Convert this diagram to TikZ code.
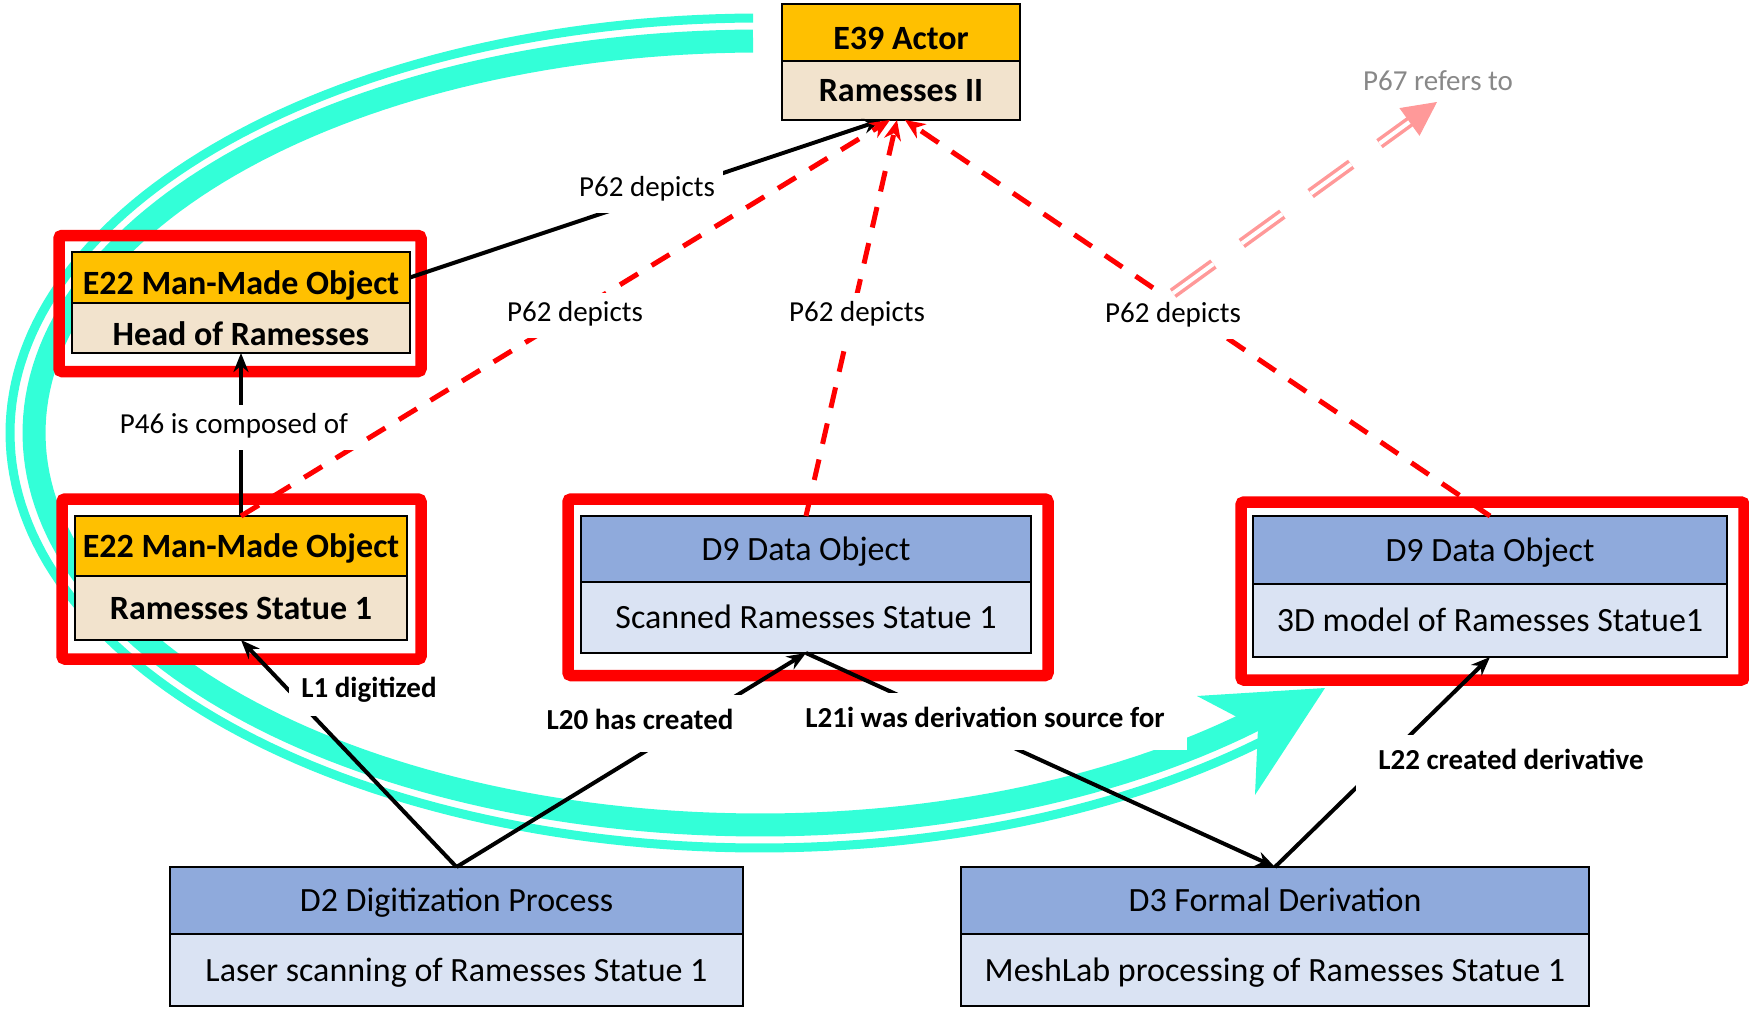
\documentclass[tikz,border=0pt]{standalone}
\usepackage{fontspec}
\setmainfont{Carlito}
\usetikzlibrary{arrows.meta,calc}
\definecolor{gold}{HTML}{FFC000}
\definecolor{beige}{HTML}{F2E3CD}
\definecolor{bluehead}{HTML}{8FAADC}
\definecolor{bluebody}{HTML}{DAE3F3}
\definecolor{turq}{HTML}{33FFD8}
\definecolor{pinkc}{HTML}{FF9999}
\definecolor{greytxt}{HTML}{888888}
\begin{document}
\begin{tikzpicture}[x=1pt,y=-1pt,
  band/.style={draw=black, line width=2.2pt, inner sep=0pt, outer sep=0pt,
    text height=27pt, text depth=5pt, font=\fontsize{34}{40}\selectfont},
  lowtext/.style={text height=39pt, text depth=5pt},
  ehead/.style={band, fill=gold, font=\fontsize{34}{40}\selectfont\bfseries},
  ebody/.style={band, fill=beige, font=\fontsize{34}{40}\selectfont\bfseries},
  dhead/.style={band, fill=bluehead},
  dbody/.style={band, fill=bluebody},
  hilite/.style={draw=red, line width=11.5pt, rounded corners=3pt},
  blk/.style={draw=black, line width=4pt, -{Stealth[length=19pt,width=15pt]}},
  reddash/.style={draw=red, line width=5pt, dash pattern=on 21pt off 16pt,
    -{Stealth[length=20pt,width=17pt]}},
  lbl/.style={fill=white, inner xsep=8pt, inner ysep=8pt, text height=21pt,
    text depth=8pt, font=\fontsize{29}{34}\selectfont},
  blbl/.style={lbl, inner xsep=22pt, inner ysep=14pt,
    font=\fontsize{29}{34}\selectfont\bfseries},
]
\useasboundingbox (0,0) rectangle (1749,1009);

% large turquoise loop: thin outer stroke, thick inner stroke, arrowhead
\draw[turq, line width=9pt] plot[domain=90.53:313, samples=160]
  ({760+750*cos(\x)},{433-415*sin(\x)});
\draw[turq, line width=23pt] plot[domain=90.55:314, samples=160]
  ({760+726*cos(\x)},{433-392*sin(\x)});
\fill[turq] (1325,688) -- (1197,696) -- (1258,728) -- (1255,795) -- cycle;

% red highlight frames
\draw[hilite] (59,235.5) rectangle (421,371.5);
\draw[hilite] (62,499) rectangle (421,659);
\draw[hilite] (568,499) rectangle (1048,675.5);
\draw[hilite] (1241,502) rectangle (1744,680);

% entity boxes
\node[ehead, lowtext, minimum width=238pt, minimum height=57pt, anchor=north west] (e39H) at (782,4) {E39 Actor};
\node[ebody, minimum width=238pt, minimum height=59pt, anchor=north] (e39B) at (e39H.south) {Ramesses II};

\node[ehead, lowtext, minimum width=338pt, minimum height=51pt, anchor=north west] (headH) at (72,252) {E22 Man-Made Object};
\node[ebody, lowtext, minimum width=338pt, minimum height=50pt, anchor=north] (headB) at (headH.south) {Head of Ramesses};

\node[ehead, minimum width=332pt, minimum height=60pt, anchor=north west] (statH) at (75,516) {E22 Man-Made Object};
\node[ebody, minimum width=332pt, minimum height=64pt, anchor=north] (statB) at (statH.south) {Ramesses Statue 1};

\node[dhead, minimum width=450pt, minimum height=66pt, anchor=north west] (scanH) at (581,516) {D9 Data Object};
\node[dbody, minimum width=450pt, minimum height=71pt, anchor=north] (scanB) at (scanH.south) {Scanned Ramesses Statue 1};

\node[dhead, minimum width=474pt, minimum height=68pt, anchor=north west] (modH) at (1253,516) {D9 Data Object};
\node[dbody, minimum width=474pt, minimum height=73pt, anchor=north] (modB) at (modH.south) {3D model of Ramesses Statue1};

\node[dhead, minimum width=573pt, minimum height=67pt, anchor=north west] (digH) at (170,867) {D2 Digitization Process};
\node[dbody, minimum width=573pt, minimum height=72pt, anchor=north] (digB) at (digH.south) {Laser scanning of Ramesses Statue 1};

\node[dhead, minimum width=628pt, minimum height=67pt, anchor=north west] (derH) at (961,867) {D3 Formal Derivation};
\node[dbody, minimum width=628pt, minimum height=72pt, anchor=north] (derB) at (derH.south) {MeshLab processing of Ramesses Statue 1};

% relations
\draw[blk] (statH.north) -- (headB.south);
\draw[blk] (digH.north) -- (statB.south);
\draw[blk] (digH.north) -- (scanB.south);
\draw[blk] (scanB.south) -- (derH.north);
\draw[blk] (derH.north) -- (modB.south);
\draw[blk] (headH.east) -- ([xshift=-19pt]e39B.south);
\draw[reddash] (statH.north) -- ([xshift=-11pt]e39B.south);
\draw[reddash] (scanH.north) -- ([xshift=-4pt]e39B.south);
\draw[reddash] (modH.north) -- ([xshift=4pt]e39B.south);

% relation labels
\node[lbl] (pd0) at (647,190) {P62 depicts};
\node[lbl] (pd1) at (575,315) {P62 depicts};
\node[lbl] (pd2) at (857,315) {P62 depicts};
\node[lbl] (pd3) at (1173,316) {P62 depicts};
\node[lbl] (pc) at (234,427) {P46 is composed of};
\node[blbl, inner xsep=12pt, inner ysep=10pt] (ldig) at (369,691) {L1 digitized};
\node[blbl] (lcre) at (640,723) {L20 has created};
\node[blbl] (lsrc) at (985,721) {L21i was derivation source for};
\node[blbl] (lder) at (1511,763) {L22 created derivative};

% refers-to arrow leaving the third depicts relation
\coordinate (refend) at (1437,102);
\draw[pinkc, line width=3.5pt, double=white, double distance=4pt,
  dash pattern=on 50pt off 35pt, shorten >=30pt] (pd3.north) -- (refend);
\draw[pinkc, line width=1pt, -{Triangle[length=34pt,width=34pt]}]
  ($(refend)!34pt!(pd3.north)$) -- (refend);
\node[lbl, fill=none, text=greytxt] (refl) at (1438,84) {P67 refers to};
\end{tikzpicture}
\end{document}
